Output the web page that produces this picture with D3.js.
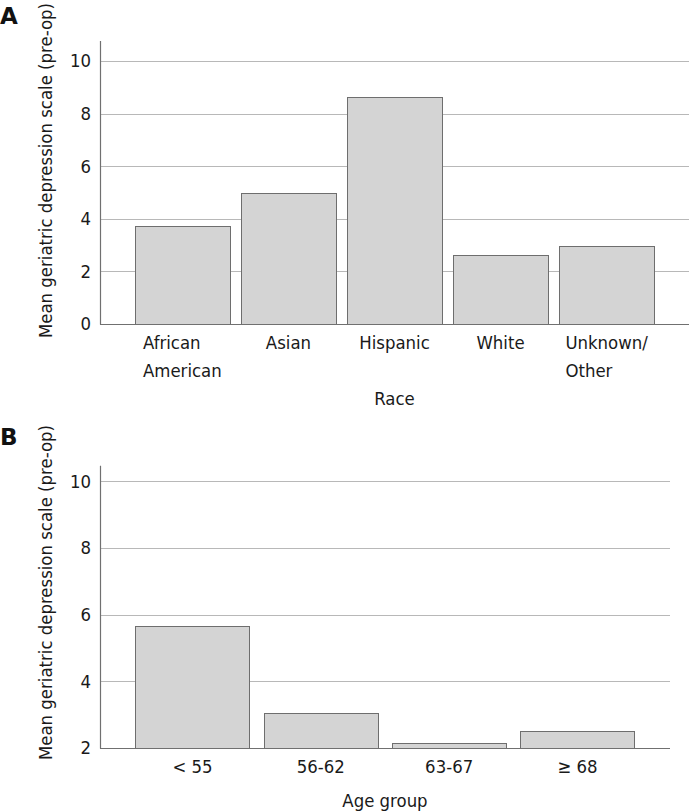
<!DOCTYPE html>
<html>
<head>
<meta charset="utf-8">
<script src="https://cdn.jsdelivr.net/npm/d3@7"></script>
<style>
  body { margin: 0; background: #fff; }
  svg { display: block; }
  text { font-family: "DejaVu Sans Condensed", "DejaVu Sans", Verdana, sans-serif; fill: #1a1a1a; }
</style>
</head>
<body>
<svg id="chart" width="691" height="811"></svg>
<script>
// ---- Data ----
const raceCategories = [["African", "American"], ["Asian"], ["Hispanic"], ["White"], ["Unknown/", "Other"]];
const raceValues = [3.71, 4.98, 8.64, 2.61, 2.97];
const raceTicks = [0, 2, 4, 6, 8, 10];

const ageCategories = [["< 55"], ["56-62"], ["63-67"], ["\u2265 68"]];
const ageValues = [5.66, 3.04, 2.16, 2.51];
const ageTicks = [2, 4, 6, 8, 10];

const yTitle = "Mean geriatric depression scale (pre-op)";

const svg = d3.select("#chart");
const FAMILY = '"DejaVu Sans Condensed", "DejaVu Sans", Verdana, sans-serif';

// pick a font size so that "Hispanic" is ~70.7px wide, like the reference
const probe = svg.append("text").attr("font-size", 20).text("Hispanic");
const FS = Math.min(18.4, 20 * 70.7 / probe.node().getComputedTextLength());
probe.remove();

function panel(opts) {
  const g = svg.append("g");
  const n = opts.cats.length;
  const x = d3.scaleBand()
    .domain(d3.range(n))
    .range([opts.x0, opts.x1])
    .paddingInner(opts.padIn)
    .paddingOuter(opts.padOut);
  const y = d3.scaleLinear().domain(opts.yDomain).range([opts.yBottom, opts.yTop]);

  // gridlines
  g.append("g").selectAll("line").data(opts.ticks.filter(t => t !== opts.yDomain[0]))
    .join("line")
    .attr("x1", opts.x0).attr("x2", opts.x1)
    .attr("y1", d => Math.round(y(d)) + 0.5).attr("y2", d => Math.round(y(d)) + 0.5)
    .attr("stroke", "#b8b8b8").attr("stroke-width", 1);

  // y axis via d3.axisLeft (no tick marks)
  const yAxis = d3.axisLeft(y).tickValues(opts.ticks).tickSize(0).tickPadding(9).tickFormat(d3.format("d"));
  const ya = g.append("g").attr("transform", `translate(${opts.x0},0)`).call(yAxis);
  ya.select(".domain").remove();
  ya.selectAll("text").style("font-size", FS + "px").style("font-family", FAMILY).style("fill", "#1a1a1a");

  // bars
  g.append("g").selectAll("rect").data(opts.values)
    .join("rect")
    .attr("x", (d, i) => Math.round(x(i)) + 0.5)
    .attr("width", Math.round(x.bandwidth()))
    .attr("y", d => Math.round(y(d)) + 0.5)
    .attr("height", d => Math.round(opts.yBottom) - Math.round(y(d)))
    .attr("fill", "#d4d4d4")
    .attr("stroke", "#6e6e6e")
    .attr("stroke-width", 1);

  // axis lines
  g.append("line")
    .attr("x1", opts.x0 + 0.5).attr("x2", opts.x0 + 0.5)
    .attr("y1", opts.axisTop).attr("y2", Math.round(opts.yBottom) + 0.5)
    .attr("stroke", "#707070").attr("stroke-width", 1.2);
  g.append("line")
    .attr("x1", opts.x0).attr("x2", opts.x1)
    .attr("y1", Math.round(opts.yBottom) + 0.5).attr("y2", Math.round(opts.yBottom) + 0.5)
    .attr("stroke", "#707070").attr("stroke-width", 1.2);

  // category labels (block centred, lines left-aligned)
  const lab = g.append("g").selectAll("text").data(opts.cats)
    .join("text")
    .attr("font-size", FS)
    .attr("y", opts.labelY);
  lab.each(function (lines, i) {
    const t = d3.select(this);
    lines.forEach((ln, k) => {
      t.append("tspan").attr("x", 0).attr("dy", k === 0 ? 0 : opts.lineGap).text(ln);
    });
    let maxW = 0;
    t.selectAll("tspan").each(function () { maxW = Math.max(maxW, this.getComputedTextLength()); });
    const cx = x(i) + x.bandwidth() / 2;
    t.selectAll("tspan").attr("x", cx - maxW / 2);
  });

  // x title
  g.append("text")
    .attr("x", (opts.x0 + opts.x1) / 2)
    .attr("y", opts.xTitleY)
    .attr("text-anchor", "middle")
    .attr("font-size", FS)
    .text(opts.xTitle);

  // y title
  g.append("text")
    .attr("transform", `translate(${opts.yTitleX},${opts.yTitleCy}) rotate(-90)`)
    .attr("text-anchor", "middle")
    .attr("font-size", FS)
    .text(yTitle);

  // panel letter
  g.append("text")
    .attr("x", 0).attr("y", opts.letterY)
    .style("font-family", '"DejaVu Sans", Verdana, sans-serif')
    .style("font-size", "23px").style("font-weight", "bold")
    .style("fill", "#111")
    .text(opts.letter);
}

panel({
  letter: "A", letterY: 24,
  cats: raceCategories, values: raceValues, ticks: raceTicks,
  x0: 100, x1: 689, padIn: 0.107, padOut: 0.33,
  yDomain: [0, 10], yBottom: 324, yTop: 61, axisTop: 41,
  labelY: 349, lineGap: 27.5, xTitle: "Race", xTitleY: 405,
  yTitleX: 52, yTitleCy: 170.5
});

panel({
  letter: "B", letterY: 445,
  cats: ageCategories, values: ageValues, ticks: ageTicks,
  x0: 100, x1: 670, padIn: 0.11, padOut: 0.276,
  yDomain: [2, 10], yBottom: 748, yTop: 481.3, axisTop: 465.7,
  labelY: 772.5, lineGap: 27.5, xTitle: "Age group", xTitleY: 807,
  yTitleX: 52, yTitleCy: 592.5
});
</script>
</body>
</html>
